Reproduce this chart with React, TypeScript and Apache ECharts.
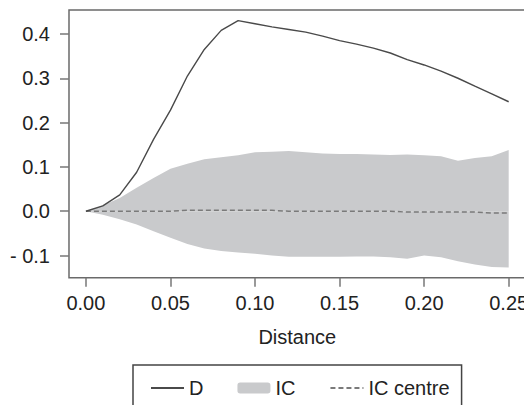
import React, { useEffect, useRef } from "react";
import * as echarts from "echarts";

const distance = [0, 0.01, 0.02, 0.03, 0.04, 0.05, 0.06, 0.07, 0.08, 0.09, 0.1, 0.11, 0.12, 0.13, 0.14, 0.15, 0.16, 0.17, 0.18, 0.19, 0.2, 0.21, 0.22, 0.23, 0.24, 0.25];
const dValues = [0, 0.012, 0.037, 0.088, 0.162, 0.228, 0.305, 0.365, 0.408, 0.43, 0.423, 0.416, 0.41, 0.404, 0.395, 0.385, 0.377, 0.368, 0.357, 0.342, 0.33, 0.316, 0.3, 0.282, 0.265, 0.247];
const icUpper = [0, 0.013, 0.03, 0.053, 0.075, 0.096, 0.107, 0.117, 0.122, 0.126, 0.133, 0.134, 0.136, 0.133, 0.13, 0.129, 0.129, 0.128, 0.127, 0.128, 0.126, 0.124, 0.114, 0.12, 0.124, 0.138];
const icLower = [0, -0.008, -0.018, -0.03, -0.045, -0.06, -0.074, -0.084, -0.09, -0.093, -0.096, -0.1, -0.103, -0.103, -0.103, -0.103, -0.102, -0.102, -0.104, -0.107, -0.1, -0.104, -0.113, -0.12, -0.126, -0.127];
const icCentre = [0, 0, 0, 0, 0, 0, 0.002, 0.002, 0.002, 0.002, 0.002, 0.002, 0, 0, 0, 0, 0, 0, 0, -0.002, -0.002, -0.002, -0.002, -0.002, -0.004, -0.004];
const xTicks = [0, 0.05, 0.1, 0.15, 0.2, 0.25];
const yTicks = [-0.1, 0, 0.1, 0.2, 0.3, 0.4];

const FONT = "'Liberation Sans', Arial, sans-serif";
const TEXT = "#222";
const BAND = "#c9cacc";

export default function App() {
  const ref = useRef<HTMLDivElement>(null);
  useEffect(() => {
    if (!ref.current) return;
    const chart = echarts.init(ref.current, undefined, { renderer: "svg" });
    const pairs = (ys: number[]) => distance.map((x, i) => [x, ys[i]]);
    const hiddenSymbol = { opacity: 0, color: "transparent", borderWidth: 0 };
    chart.setOption({
      animation: false,
      backgroundColor: "#fff",
      textStyle: { fontFamily: FONT },
      grid: {
        left: 69,
        top: 10,
        width: 456.6,
        height: 267.7,
        show: true,
        borderColor: "#6a6a6a",
        borderWidth: 1.5,
        outerBoundsMode: "none",
        containLabel: false,
      },
      xAxis: {
        type: "value",
        min: -0.01,
        max: 0.26,
        name: "Distance",
        nameLocation: "middle",
        nameGap: 49,
        nameTextStyle: { color: TEXT, fontSize: 20, fontFamily: FONT },
        axisLine: { show: false, onZero: false },
        splitLine: { show: false },
        axisTick: {
          show: true,
          length: 9,
          lineStyle: { color: "#777", width: 1.5 },
          customValues: xTicks,
        },
        axisLabel: {
          color: TEXT,
          fontSize: 20,
          fontFamily: FONT,
          margin: 15,
          customValues: xTicks,
          formatter: (v: number) => v.toFixed(2),
        },
      },
      yAxis: {
        type: "value",
        min: -0.15,
        max: 0.454,
        axisLine: { show: false, onZero: false },
        splitLine: { show: false },
        axisTick: {
          show: true,
          length: 9,
          lineStyle: { color: "#777", width: 1.5 },
          customValues: yTicks,
        },
        axisLabel: {
          color: TEXT,
          fontSize: 20,
          fontFamily: FONT,
          margin: 19,
          customValues: yTicks,
          formatter: (v: number) => (v < 0 ? "- " + Math.abs(v).toFixed(1) : v.toFixed(1)),
        },
      },
      legend: {
        left: 133,
        top: 365,
        orient: "horizontal",
        padding: [13, 12, 22, 17],
        borderColor: "#444",
        borderWidth: 1.5,
        itemWidth: 33,
        itemHeight: 11,
        itemGap: 34,
        textStyle: { color: TEXT, fontSize: 20, fontFamily: FONT },
        data: [
          { name: "D", itemStyle: hiddenSymbol },
          { name: "IC", icon: "roundRect" },
          { name: "IC centre", itemStyle: hiddenSymbol },
        ],
      },
      series: [
        {
          name: "IC",
          type: "line",
          data: pairs(icUpper),
          symbol: "none",
          color: BAND,
          itemStyle: { color: BAND },
          lineStyle: { width: 0, color: BAND },
          areaStyle: { color: BAND, opacity: 1, origin: 0 },
        },
        {
          name: "IC",
          type: "line",
          data: pairs(icLower),
          symbol: "none",
          color: BAND,
          itemStyle: { color: BAND },
          lineStyle: { width: 0, color: BAND },
          areaStyle: { color: BAND, opacity: 1, origin: 0 },
        },
        {
          name: "IC centre",
          type: "line",
          data: pairs(icCentre),
          symbol: "none",
          color: "#7a7a7a",
          lineStyle: { color: "#7a7a7a", width: 1.5, type: [5, 3] },
        },
        {
          name: "D",
          type: "line",
          data: pairs(dValues),
          symbol: "none",
          color: "#4a4a4a",
          lineStyle: { color: "#4a4a4a", width: 1.4 },
        },
      ],
    });
    return () => chart.dispose();
  }, []);
  return (
    <div
      ref={ref}
      style={{ position: "fixed", left: 0, top: 0, width: 524, height: 405 }}
    />
  );
}
